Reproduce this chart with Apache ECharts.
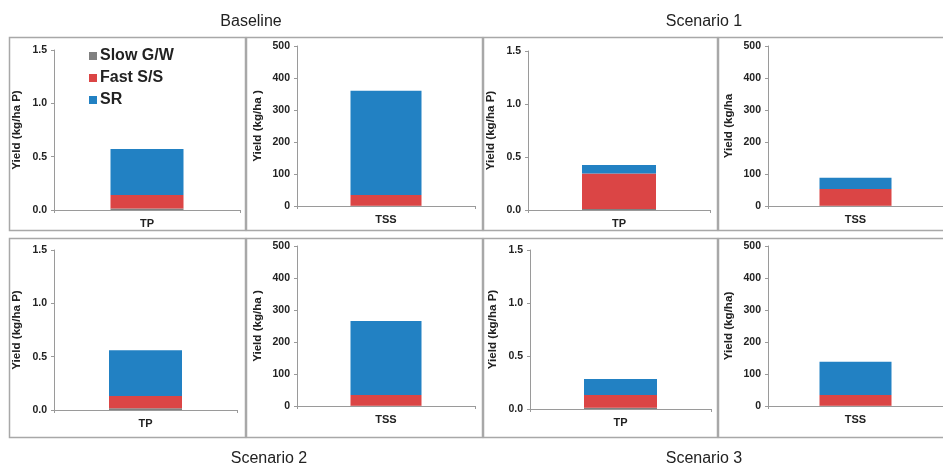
<!DOCTYPE html>
<html>
<head>
<meta charset="utf-8">
<script src="https://cdn.jsdelivr.net/npm/echarts@6/dist/echarts.min.js"></script>
<style>
  html, body { margin: 0; padding: 0; background: #fff; }
  #chart { width: 943px; height: 466px; }
</style>
</head>
<body>
<div id="chart"></div>
<script>
// Stacked yield components per scenario, for total phosphorus (TP) and total suspended solids (TSS)
const scenarios = ['Baseline', 'Scenario 1', 'Scenario 2', 'Scenario 3'];
const components = ['Slow G/W', 'Fast S/S', 'SR'];

// TP yield, kg/ha P
const slowTP = [0.015, 0.010, 0.016, 0.012];
const fastTP = [0.125, 0.335, 0.115, 0.120];
const srTP   = [0.432, 0.080, 0.430, 0.151];

// TSS yield, kg/ha
const slowTSS = [1, 1, 1, 1];
const fastTSS = [33, 52, 33, 33];
const srTSS   = [326, 35, 232, 104];

// Axis ranges / tick steps
const tpTicks  = { min: 0, max: 1.5, interval: 0.5 };
const tssTicks = { min: 0, max: 500, interval: 100 };

// Y axis titles as printed in each panel
const tpNames  = ['Yield (kg/ha P)', 'Yield (kg/ha P)', 'Yield (kg/ha P)', 'Yield (kg/ha P)'];
const tssNames = ['Yield (kg/ha )', 'Yield (kg/ha', 'Yield (kg/ha )', 'Yield (kg/ha)'];

const colors = ['#808080', '#db4545', '#2281c3'];
const FONT = '"Liberation Sans", Arial, sans-serif';

// Layout of the eight panels: [grid rect, panel frame]
const panels = [
  // Baseline
  { s: 0, kind: 'TP',  grid: { left: 54,  top: 50,  width: 186, height: 160 }, frame: [9, 37, 236, 193],  gap: 31, bw: 73 },
  { s: 0, kind: 'TSS', grid: { left: 297, top: 46,  width: 178, height: 160 }, frame: [246, 37, 236, 193], gap: 33, bw: 71 },
  // Scenario 1
  { s: 1, kind: 'TP',  grid: { left: 528, top: 51,  width: 182, height: 159 }, frame: [483, 37, 234, 193], gap: 31, bw: 74 },
  { s: 1, kind: 'TSS', grid: { left: 768, top: 46,  width: 175, height: 160 }, frame: [718, 37, 230, 193], gap: 33, bw: 72 },
  // Scenario 2
  { s: 2, kind: 'TP',  grid: { left: 54,  top: 250, width: 183, height: 160 }, frame: [9, 238, 236, 199],  gap: 31, bw: 73 },
  { s: 2, kind: 'TSS', grid: { left: 297, top: 246, width: 178, height: 160 }, frame: [246, 238, 236, 199], gap: 33, bw: 71 },
  // Scenario 3
  { s: 3, kind: 'TP',  grid: { left: 530, top: 250, width: 181, height: 159 }, frame: [483, 238, 234, 199], gap: 31, bw: 73 },
  { s: 3, kind: 'TSS', grid: { left: 768, top: 246, width: 175, height: 160 }, frame: [718, 238, 230, 199], gap: 33, bw: 72 }
];

const grids = [], xAxes = [], yAxes = [], series = [], frames = [];

panels.forEach((p, i) => {
  const isTP = p.kind === 'TP';
  const ticks = isTP ? tpTicks : tssTicks;
  grids.push(Object.assign({ containLabel: false }, p.grid));
  xAxes.push({
    type: 'category', gridIndex: i, data: [p.kind],
    axisLine: { lineStyle: { color: '#9a9a9a', width: 1 } },
    axisTick: { show: true, length: 3, lineStyle: { color: '#9a9a9a' } },
    axisLabel: { color: '#222', fontWeight: 'bold', fontSize: 11, fontFamily: FONT, margin: 8 }
  });
  yAxes.push({
    type: 'value', gridIndex: i, min: ticks.min, max: ticks.max, interval: ticks.interval,
    name: isTP ? tpNames[p.s] : tssNames[p.s],
    nameLocation: 'middle', nameGap: p.gap, nameRotate: 90,
    nameTextStyle: { color: '#222', fontWeight: 'bold', fontSize: 11.6, fontFamily: FONT },
    axisLine: { show: true, lineStyle: { color: '#9a9a9a', width: 1 } },
    axisTick: { show: true, length: 3, lineStyle: { color: '#9a9a9a' } },
    splitLine: { show: false },
    axisLabel: {
      color: '#222', fontWeight: 'bold', fontSize: 10.5, fontFamily: FONT, margin: 7,
      formatter: v => isTP ? v.toFixed(1) : String(v)
    }
  });
  const vals = isTP ? [slowTP, fastTP, srTP] : [slowTSS, fastTSS, srTSS];
  components.forEach((name, k) => {
    series.push({
      type: 'bar', name, xAxisIndex: i, yAxisIndex: i,
      stack: 'yield' + i, barWidth: p.bw,
      data: [vals[k][p.s]],
      itemStyle: { color: colors[k] },
      emphasis: { disabled: true }
    });
  });
  const [fx, fy, fw, fh] = p.frame;
  frames.push({
    type: 'rect', silent: true, z: -1,
    shape: { x: fx + 0.5, y: fy + 0.5, width: fw, height: fh },
    style: { fill: null, stroke: '#a8a8a8', lineWidth: 1.5 }
  });
});

const titleStyle = { color: '#222', fontSize: 16, fontWeight: 'normal', fontFamily: FONT };
const titles = [
  { text: scenarios[0], left: 251, top: 14 },
  { text: scenarios[1], left: 704, top: 14 },
  { text: scenarios[2], left: 269, top: 451 },
  { text: scenarios[3], left: 704, top: 451 }
].map(t => ({ text: t.text, left: t.left, top: t.top, textAlign: 'center', padding: 0, textStyle: titleStyle }));

const chart = echarts.init(document.getElementById('chart'), null, { renderer: 'canvas' });
chart.setOption({
  animation: false,
  backgroundColor: '#fff',
  title: titles,
  legend: {
    data: components,
    orient: 'vertical', left: 89, top: 48, padding: 0,
    itemWidth: 8, itemHeight: 8, itemGap: 6,
    icon: 'rect',
    textStyle: { color: '#222', fontWeight: 'bold', fontSize: 16, fontFamily: FONT, padding: [0, 0, 0, -2] },
    selectedMode: false
  },
  grid: grids,
  xAxis: xAxes,
  yAxis: yAxes,
  series,
  graphic: frames
});
</script>
</body>
</html>
